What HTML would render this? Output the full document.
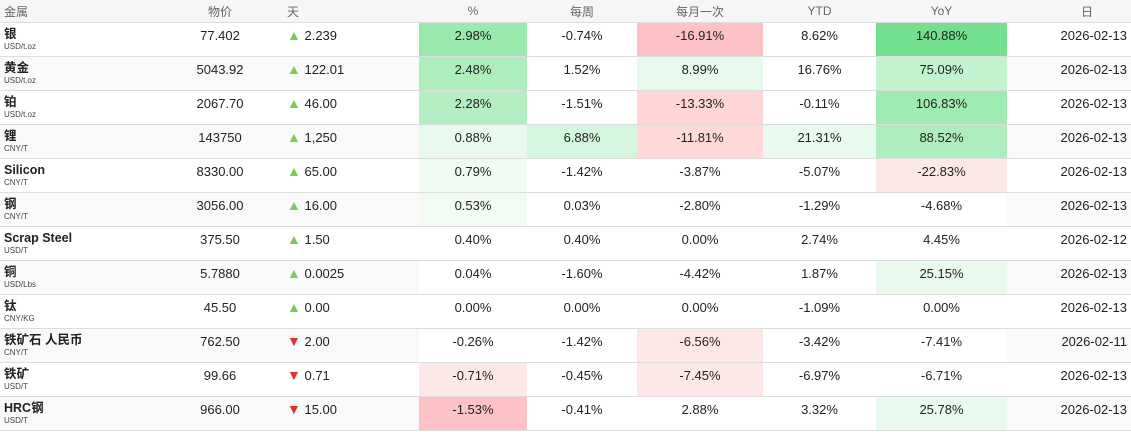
<!DOCTYPE html><html><head><meta charset="utf-8"><style>
body{margin:0;width:1131px;height:432px;overflow:hidden;background:#fff;font-family:"Liberation Sans","Noto Sans CJK SC",sans-serif;}
table{border-collapse:collapse;table-layout:fixed;width:1131px;}
th{height:22px;background:#f5f6f8;color:#666;font-weight:normal;font-size:12px;text-align:center;border-bottom:1px solid #ddd;padding:0;}
td{height:33px;border-bottom:1px solid #ddd;padding:0;font-size:13px;color:#222;text-align:center;vertical-align:top;line-height:25px;}
tr.e td{background:#f9f9f9;}
td.n{text-align:left;padding-left:4px;}
td.n b{display:block;font-size:12.5px;line-height:15px;padding-top:4px;color:#222;}
td.n span{display:block;font-size:8px;line-height:10px;color:#444;}
td.d{text-align:left;padding-left:27px;}
.u{color:#7cc85a;font-size:14px;}.dn{color:#e62e2e;font-size:14px;}
td.dt{text-align:right;padding-right:4px;}
</style></head><body><table>
<colgroup><col style="width:180px"><col style="width:80px"><col style="width:159px"><col style="width:108px"><col style="width:110px"><col style="width:126px"><col style="width:113px"><col style="width:131px"><col style="width:124px"></colgroup>
<tr><th style="text-align:left;padding-left:4px">金属</th><th>物价</th><th style="text-align:left;padding-left:27px">天</th><th>%</th><th>每周</th><th>每月一次</th><th>YTD</th><th>YoY</th><th style="text-align:right;padding-right:38px">日</th></tr>
<tr><td class="n"><b>银</b><span>USD/t.oz</span></td><td>77.402</td><td class="d"><span class="u">▲</span> 2.239</td><td style="background:#9aeab0">2.98%</td><td>-0.74%</td><td style="background:#fdc2c5">-16.91%</td><td>8.62%</td><td style="background:#72e08e">140.88%</td><td class="dt">2026-02-13</td></tr>
<tr class="e"><td class="n"><b>黄金</b><span>USD/t.oz</span></td><td>5043.92</td><td class="d"><span class="u">▲</span> 122.01</td><td style="background:#aeeebe">2.48%</td><td style="background:#fff">1.52%</td><td style="background:#e8f9ee">8.99%</td><td style="background:#fff">16.76%</td><td style="background:#c2f3cf">75.09%</td><td class="dt">2026-02-13</td></tr>
<tr><td class="n"><b>铂</b><span>USD/t.oz</span></td><td>2067.70</td><td class="d"><span class="u">▲</span> 46.00</td><td style="background:#b3efc2">2.28%</td><td>-1.51%</td><td style="background:#ffd5d5">-13.33%</td><td>-0.11%</td><td style="background:#a0ebb3">106.83%</td><td class="dt">2026-02-13</td></tr>
<tr class="e"><td class="n"><b>锂</b><span>CNY/T</span></td><td>143750</td><td class="d"><span class="u">▲</span> 1,250</td><td style="background:#e8f9ee">0.88%</td><td style="background:#d4f5de">6.88%</td><td style="background:#ffd8d8">-11.81%</td><td style="background:#e8f9ee">21.31%</td><td style="background:#aeeebe">88.52%</td><td class="dt">2026-02-13</td></tr>
<tr><td class="n"><b>Silicon</b><span>CNY/T</span></td><td>8330.00</td><td class="d"><span class="u">▲</span> 65.00</td><td style="background:#eefaf2">0.79%</td><td>-1.42%</td><td>-3.87%</td><td>-5.07%</td><td style="background:#fde8e8">-22.83%</td><td class="dt">2026-02-13</td></tr>
<tr class="e"><td class="n"><b>钢</b><span>CNY/T</span></td><td>3056.00</td><td class="d"><span class="u">▲</span> 16.00</td><td style="background:#f1fbf4">0.53%</td><td style="background:#fff">0.03%</td><td style="background:#fff">-2.80%</td><td style="background:#fff">-1.29%</td><td style="background:#fff">-4.68%</td><td class="dt">2026-02-13</td></tr>
<tr><td class="n"><b>Scrap Steel</b><span>USD/T</span></td><td>375.50</td><td class="d"><span class="u">▲</span> 1.50</td><td>0.40%</td><td>0.40%</td><td>0.00%</td><td>2.74%</td><td>4.45%</td><td class="dt">2026-02-12</td></tr>
<tr class="e"><td class="n"><b>铜</b><span>USD/Lbs</span></td><td>5.7880</td><td class="d"><span class="u">▲</span> 0.0025</td><td style="background:#fff">0.04%</td><td style="background:#fff">-1.60%</td><td style="background:#fff">-4.42%</td><td style="background:#fff">1.87%</td><td style="background:#e8f9ee">25.15%</td><td class="dt">2026-02-13</td></tr>
<tr><td class="n"><b>钛</b><span>CNY/KG</span></td><td>45.50</td><td class="d"><span class="u">▲</span> 0.00</td><td>0.00%</td><td>0.00%</td><td>0.00%</td><td>-1.09%</td><td>0.00%</td><td class="dt">2026-02-13</td></tr>
<tr class="e"><td class="n"><b>铁矿石 人民币</b><span>CNY/T</span></td><td>762.50</td><td class="d"><span class="dn">▼</span> 2.00</td><td style="background:#fff">-0.26%</td><td style="background:#fff">-1.42%</td><td style="background:#fde6e6">-6.56%</td><td style="background:#fff">-3.42%</td><td style="background:#fff">-7.41%</td><td class="dt">2026-02-11</td></tr>
<tr><td class="n"><b>铁矿</b><span>USD/T</span></td><td>99.66</td><td class="d"><span class="dn">▼</span> 0.71</td><td style="background:#fde8e8">-0.71%</td><td>-0.45%</td><td style="background:#fde8e8">-7.45%</td><td>-6.97%</td><td>-6.71%</td><td class="dt">2026-02-13</td></tr>
<tr class="e"><td class="n"><b>HRC钢</b><span>USD/T</span></td><td>966.00</td><td class="d"><span class="dn">▼</span> 15.00</td><td style="background:#fdc2c5">-1.53%</td><td style="background:#fff">-0.41%</td><td style="background:#fff">2.88%</td><td style="background:#fff">3.32%</td><td style="background:#e8f9ee">25.78%</td><td class="dt">2026-02-13</td></tr>
</table></body></html>
